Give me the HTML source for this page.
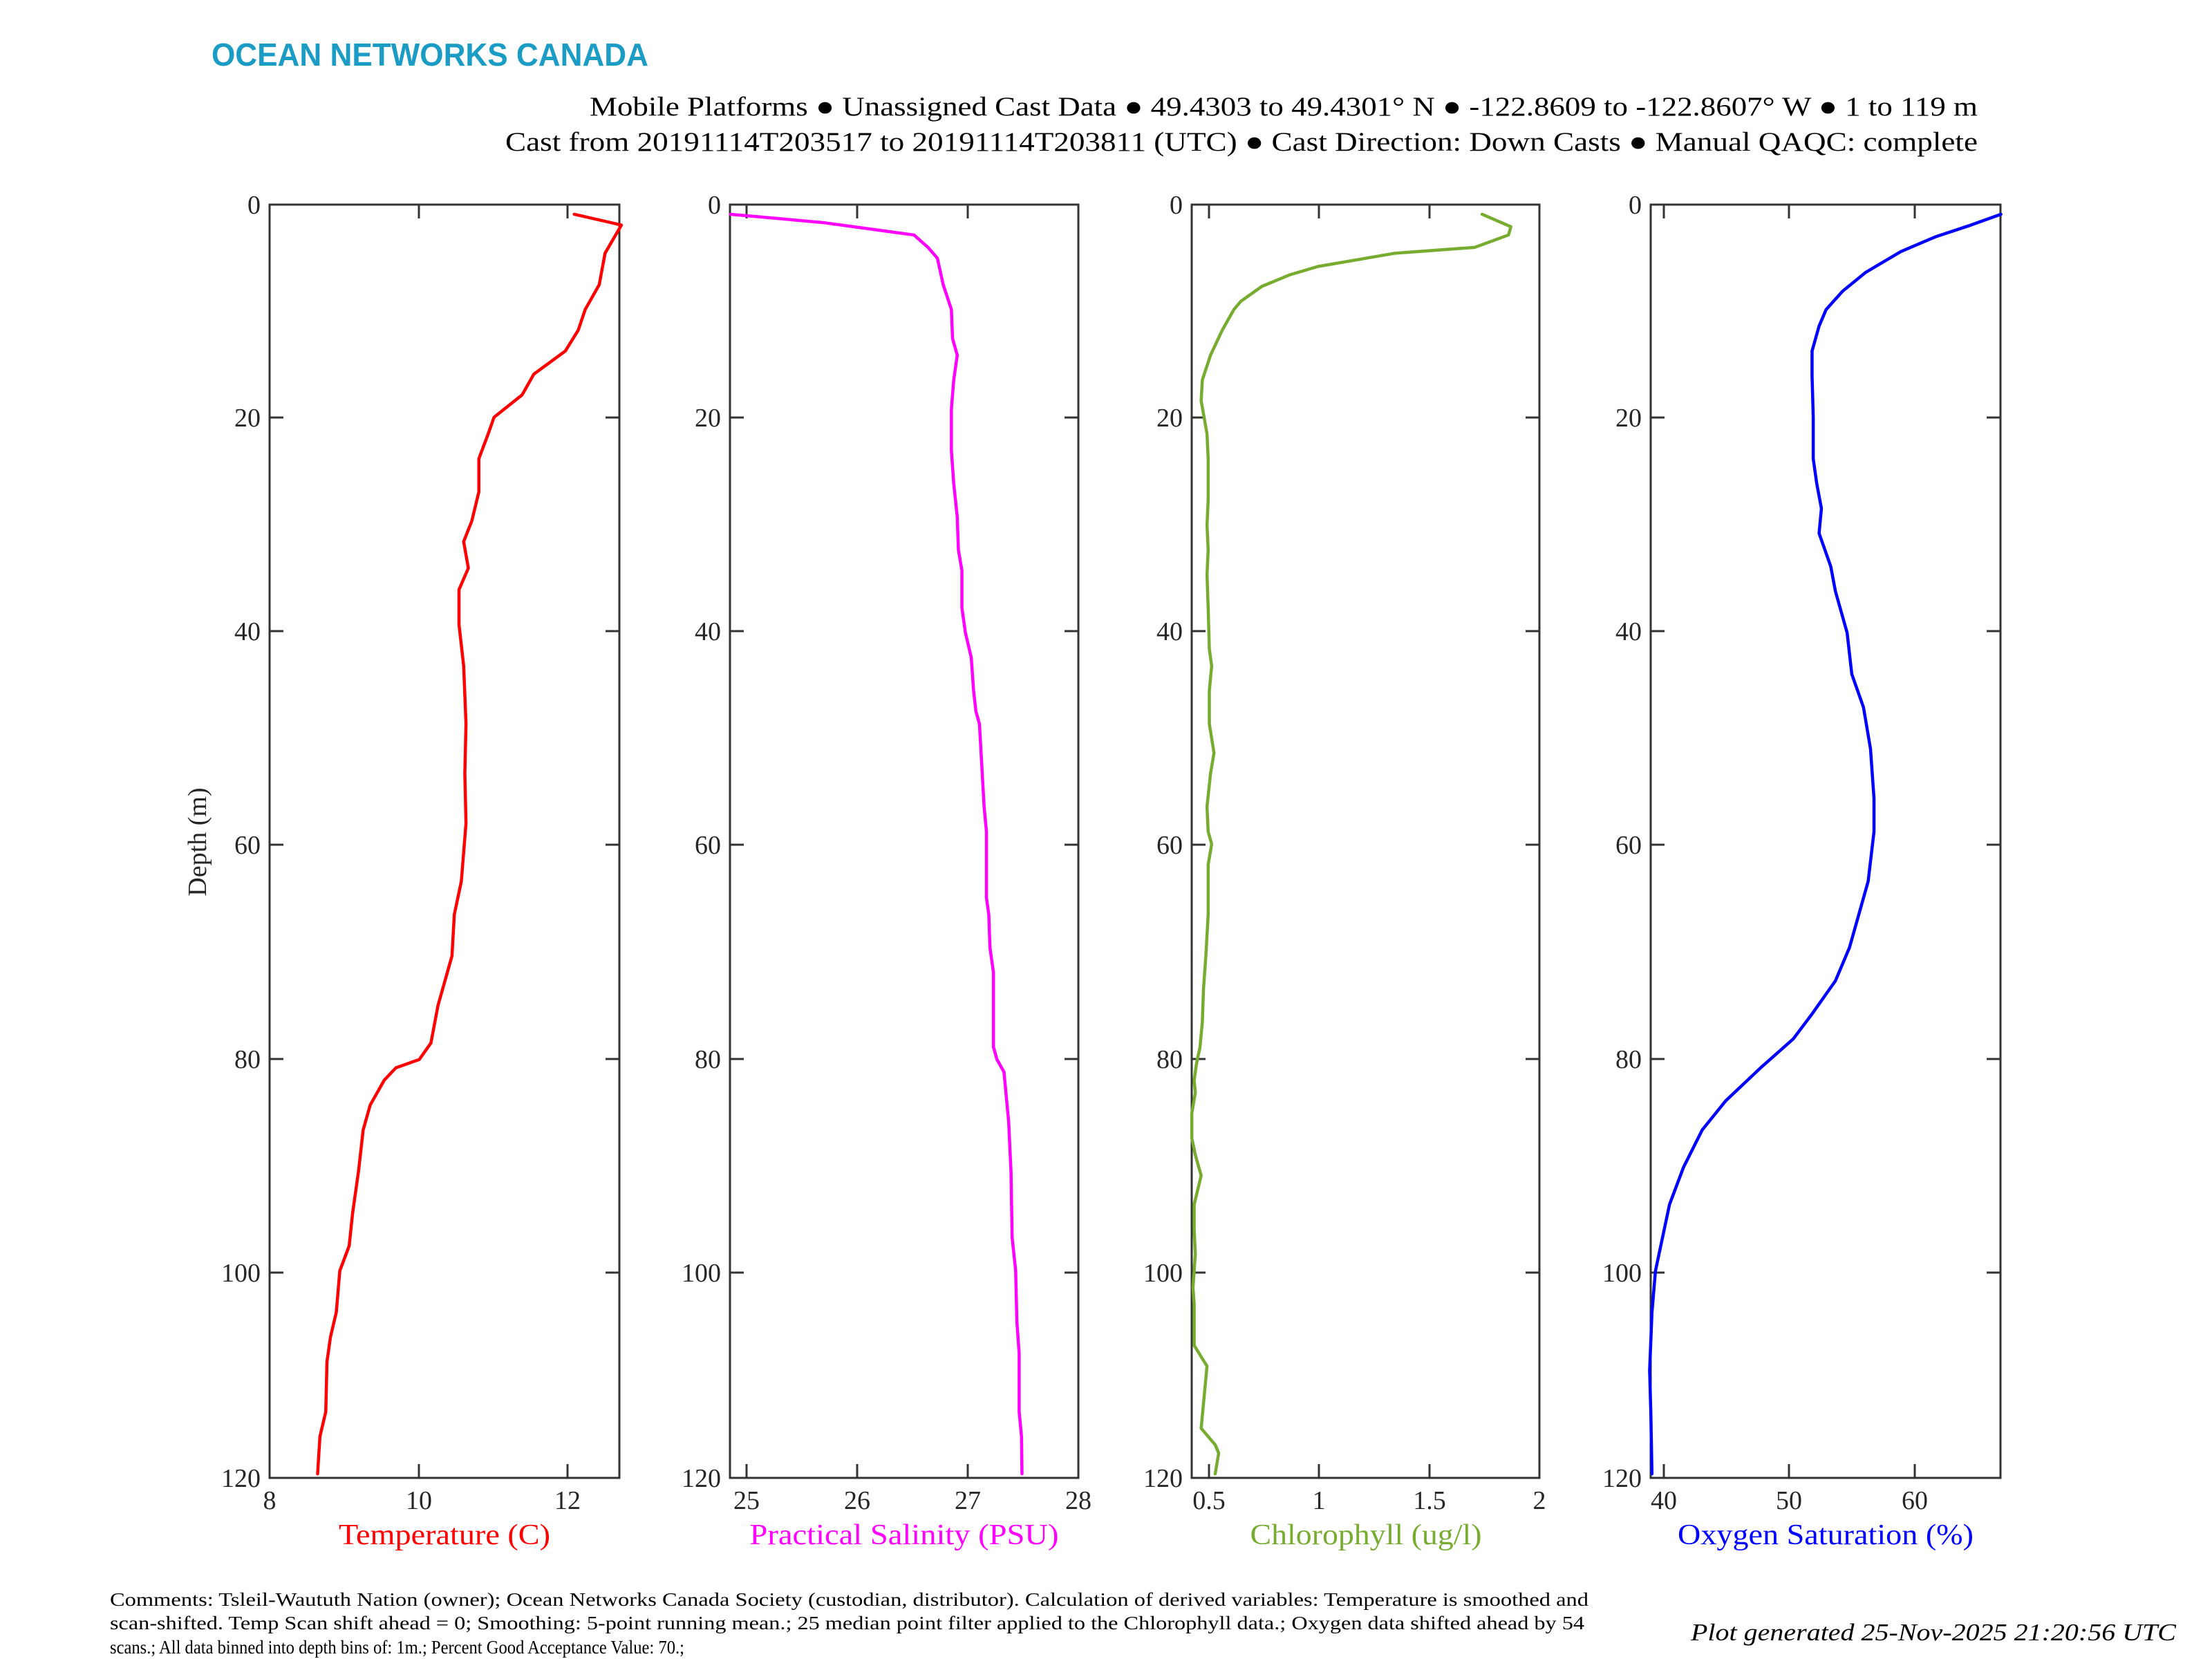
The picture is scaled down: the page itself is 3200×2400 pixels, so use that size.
<!DOCTYPE html>
<html><head><meta charset="utf-8"><style>
html,body{margin:0;padding:0;background:#fff;}
svg{display:block;}
text{font-family:"Liberation Serif",serif;}
</style></head><body>
<svg width="3200" height="2400" viewBox="0 0 3200 2400" xmlns="http://www.w3.org/2000/svg">
<rect width="3200" height="2400" fill="#fff"/>
<text x="306" y="95" font-family="Liberation Sans Narrow, Liberation Sans, sans-serif" style="font-family:'Liberation Sans Narrow','Liberation Sans',sans-serif" font-weight="bold" font-size="46" fill="#1a9cc4" textLength="632" lengthAdjust="spacingAndGlyphs">OCEAN NETWORKS CANADA</text>
<text x="2861" y="167" font-size="39" text-anchor="end" textLength="2008" lengthAdjust="spacingAndGlyphs">Mobile Platforms ● Unassigned Cast Data ● 49.4303 to 49.4301° N ● -122.8609 to -122.8607° W ● 1 to 119 m</text>
<text x="2861" y="218" font-size="39" text-anchor="end" textLength="2130" lengthAdjust="spacingAndGlyphs">Cast from 20191114T203517 to 20191114T203811 (UTC) ● Cast Direction: Down Casts ● Manual QAQC: complete</text>

<g stroke="#333" stroke-width="3" fill="none">
<rect x="390" y="296" width="506" height="1842"/>
<rect x="1056" y="296" width="504" height="1842"/>
<rect x="1724" y="296" width="503" height="1842"/>
<rect x="2388" y="296" width="506" height="1842"/>
<path d="M390 604h20M390 913h20M390 1222h20M390 1532h20M390 1841h20M896 604h-20M896 913h-20M896 1222h-20M896 1532h-20M896 1841h-20
M1056 604h20M1056 913h20M1056 1222h20M1056 1532h20M1056 1841h20M1560 604h-20M1560 913h-20M1560 1222h-20M1560 1532h-20M1560 1841h-20
M1724 604h20M1724 913h20M1724 1222h20M1724 1532h20M1724 1841h20M2227 604h-20M2227 913h-20M2227 1222h-20M2227 1532h-20M2227 1841h-20
M2388 604h20M2388 913h20M2388 1222h20M2388 1532h20M2388 1841h20M2894 604h-20M2894 913h-20M2894 1222h-20M2894 1532h-20M2894 1841h-20
M606 296v20M821 296v20M606 2138v-20M821 2138v-20
M1080 296v20M1240 296v20M1400 296v20M1080 2138v-20M1240 2138v-20M1400 2138v-20
M1749 296v20M1908 296v20M2068 296v20M1749 2138v-20M1908 2138v-20M2068 2138v-20
M2407 296v20M2588 296v20M2770 296v20M2407 2138v-20M2588 2138v-20M2770 2138v-20"/>
</g>

<g font-size="38" fill="#262626" text-anchor="end">
<text x="377" y="309">0</text><text x="377" y="617">20</text><text x="377" y="926">40</text><text x="377" y="1235">60</text><text x="377" y="1545">80</text><text x="377" y="1854">100</text><text x="377" y="2151">120</text>
<text x="1043" y="309">0</text><text x="1043" y="617">20</text><text x="1043" y="926">40</text><text x="1043" y="1235">60</text><text x="1043" y="1545">80</text><text x="1043" y="1854">100</text><text x="1043" y="2151">120</text>
<text x="1711" y="309">0</text><text x="1711" y="617">20</text><text x="1711" y="926">40</text><text x="1711" y="1235">60</text><text x="1711" y="1545">80</text><text x="1711" y="1854">100</text><text x="1711" y="2151">120</text>
<text x="2375" y="309">0</text><text x="2375" y="617">20</text><text x="2375" y="926">40</text><text x="2375" y="1235">60</text><text x="2375" y="1545">80</text><text x="2375" y="1854">100</text><text x="2375" y="2151">120</text>
</g>
<g font-size="38" fill="#262626" text-anchor="middle">
<text x="390" y="2183">8</text><text x="606" y="2183">10</text><text x="821" y="2183">12</text>
<text x="1080" y="2183">25</text><text x="1240" y="2183">26</text><text x="1400" y="2183">27</text><text x="1560" y="2183">28</text>
<text x="1749" y="2183">0.5</text><text x="1908" y="2183">1</text><text x="2068" y="2183">1.5</text><text x="2227" y="2183">2</text>
<text x="2407" y="2183">40</text><text x="2588" y="2183">50</text><text x="2770" y="2183">60</text>
</g>
<g font-size="42" text-anchor="middle">
<text x="643" y="2234" fill="#ff0000" textLength="306" lengthAdjust="spacingAndGlyphs">Temperature (C)</text>
<text x="1308" y="2234" fill="#ff00ff" textLength="447" lengthAdjust="spacingAndGlyphs">Practical Salinity (PSU)</text>
<text x="1976" y="2234" fill="#77ac30" textLength="335" lengthAdjust="spacingAndGlyphs">Chlorophyll (ug/l)</text>
<text x="2641" y="2234" fill="#0000ff" textLength="428" lengthAdjust="spacingAndGlyphs">Oxygen Saturation (%)</text>
</g>
<text transform="translate(298,1218) rotate(-90)" font-size="38" fill="#262626" text-anchor="middle">Depth (m)</text>

<g fill="none" stroke-width="4.5" stroke-linejoin="round" stroke-linecap="round">
<path transform="translate(380,280) scale(0.3381,1.1988)" vector-effect="non-scaling-stroke" stroke="#ff0000" d="M1333,25 L1535,38 L1465,72 L1440,110 L1380,140 L1350,165 L1295,190 L1160,218 L1110,243 L990,270 L965,290 L925,320 L925,360 L895,395 L860,420 L880,452 L840,478 L840,520 L860,570 L870,640 L865,700 L870,760 L850,830 L820,870 L810,920 L780,950 L750,980 L720,1025 L670,1045 L570,1055 L520,1070 L460,1100 L430,1130 L410,1180 L385,1230 L370,1270 L330,1300 L315,1350 L290,1380 L275,1410 L270,1470 L245,1500 L235,1545"/>
<path transform="translate(1045,280) scale(0.3381,1.1988)" vector-effect="non-scaling-stroke" stroke="#ff00ff" d="M35,25 L430,35 L820,50 L880,65 L920,78 L945,110 L980,140 L985,175 L1005,195 L990,225 L980,260 L980,310 L990,350 L1005,390 L1010,430 L1025,455 L1025,500 L1040,530 L1065,560 L1075,600 L1085,625 L1100,640 L1110,690 L1120,740 L1130,770 L1130,850 L1140,870 L1145,910 L1160,940 L1160,1030 L1175,1045 L1205,1060 L1215,1090 L1225,1120 L1235,1180 L1240,1260 L1255,1300 L1260,1360 L1270,1400 L1270,1470 L1280,1500 L1282,1545"/>
<path transform="translate(1714,280) scale(0.3381,1.1988)" vector-effect="non-scaling-stroke" stroke="#77ac30" d="M1272,25 L1395,40 L1385,50 L1240,65 L900,72 L570,88 L450,98 L330,112 L240,130 L210,140 L160,165 L110,195 L75,225 L70,250 L95,290 L100,320 L100,370 L95,400 L100,430 L95,460 L100,500 L105,550 L115,570 L105,600 L105,640 L125,675 L110,700 L95,740 L100,770 L115,785 L100,810 L100,870 L90,920 L80,960 L75,1000 L65,1030 L50,1050 L40,1070 L45,1085 L30,1110 L30,1140 L45,1160 L70,1185 L40,1220 L40,1250 L45,1280 L35,1320 L40,1340 L40,1390 L95,1415 L70,1490 L130,1510 L145,1520 L130,1545"/>
<path transform="translate(2378,280) scale(0.3381,1.1988)" vector-effect="non-scaling-stroke" stroke="#0000ff" d="M1528,25 L1400,38 L1250,52 L1100,70 L950,95 L850,118 L780,140 L750,160 L720,190 L720,220 L725,270 L725,320 L740,350 L760,380 L750,410 L800,450 L820,480 L870,530 L890,580 L940,620 L970,670 L985,730 L985,770 L960,830 L920,870 L880,910 L820,950 L720,990 L640,1020 L500,1055 L350,1095 L250,1130 L170,1175 L110,1220 L80,1260 L50,1300 L35,1350 L25,1420 L30,1470 L35,1545"/>
</g>

<g font-size="27" fill="#000">
<text x="159" y="2323" textLength="2139" lengthAdjust="spacingAndGlyphs">Comments: Tsleil-Waututh Nation (owner); Ocean Networks Canada Society (custodian, distributor). Calculation of derived variables: Temperature is smoothed and</text>
<text x="159" y="2357" textLength="2133" lengthAdjust="spacingAndGlyphs">scan-shifted. Temp Scan shift ahead = 0; Smoothing: 5-point running mean.; 25 median point filter applied to the Chlorophyll data.; Oxygen data shifted ahead by 54</text>
<text x="159" y="2392" textLength="831" lengthAdjust="spacingAndGlyphs">scans.; All data binned into depth bins of: 1m.; Percent Good Acceptance Value: 70.;</text>
</g>
<text x="3148" y="2373" font-size="35" font-style="italic" text-anchor="end" textLength="702" lengthAdjust="spacingAndGlyphs">Plot generated 25-Nov-2025 21:20:56 UTC</text>
</svg>
</body></html>
